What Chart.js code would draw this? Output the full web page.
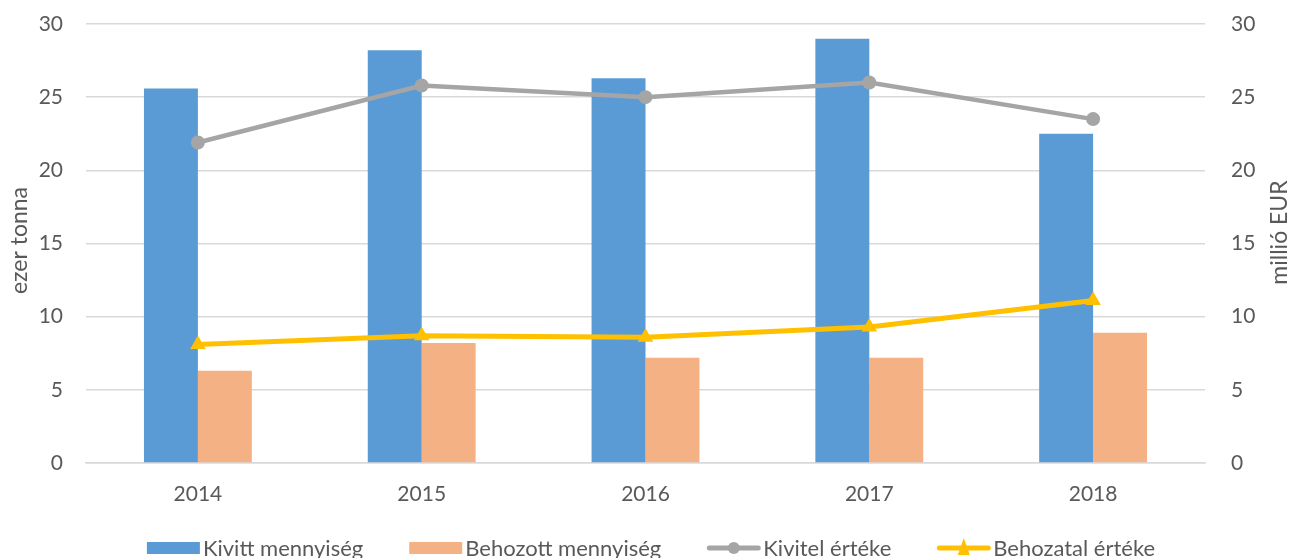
<!DOCTYPE html>
<html>
<head>
<meta charset="utf-8">
<script src="https://cdn.jsdelivr.net/npm/chart.js@4/dist/chart.umd.min.js"></script>
<style>
html,body{margin:0;padding:0;background:#fff;}
#wrap{width:1291px;height:558px;position:relative;}
</style>
</head>
<body>
<div id="wrap"><canvas id="c" width="1291" height="558"></canvas></div>
<script>
const years = ['2014', '2015', '2016', '2017', '2018'];
const kivittMennyiseg = [25.6, 28.2, 26.3, 29.0, 22.5];
const behozottMennyiseg = [6.3, 8.2, 7.2, 7.2, 8.9];
const kivitelErteke = [21.9, 25.8, 25.0, 26.0, 23.5];
const behozatalErteke = [8.1, 8.7, 8.6, 9.3, 11.1];
const yTicks = [0, 5, 10, 15, 20, 25, 30];
const leftTitle = 'ezer tonna';
const rightTitle = 'millió EUR';

const FONT = 'Lato, "Liberation Sans", sans-serif';
const TXT = '#595959';
const FS = 21;

const titlesPlugin = {
  id: 'axisTitles',
  afterDraw(chart) {
    const ctx = chart.ctx;
    ctx.save();
    ctx.font = '23px ' + FONT;
    ctx.fillStyle = TXT;
    ctx.textAlign = 'center';
    ctx.textBaseline = 'alphabetic';
    const mid = (chart.chartArea.top + chart.chartArea.bottom) / 2;
    ctx.save(); ctx.translate(27, mid - 3); ctx.rotate(-Math.PI / 2); ctx.fillText(leftTitle, 0, 0); ctx.restore();
    ctx.save(); ctx.translate(1287, mid - 11); ctx.rotate(-Math.PI / 2); ctx.fillText(rightTitle, 0, 0); ctx.restore();
    ctx.restore();
  }
};

const legendPlugin = {
  id: 'customLegend',
  afterDraw(chart) {
    const ctx = chart.ctx;
    const ds = chart.data.datasets;
    ctx.save();
    ctx.font = '22px ' + FONT;
    const sym = 53, gapT = 3, gapI = 46;
    const widths = ds.map(d => sym + gapT + ctx.measureText(d.label).width);
    const total = widths.reduce((a, b) => a + b, 0) + gapI * (ds.length - 1);
    let x = 651 - total / 2;
    const y = 548;
    ds.forEach((d, i) => {
      if (d.type === 'line') {
        ctx.strokeStyle = d.borderColor;
        ctx.lineWidth = 5;
        ctx.lineCap = 'round';
        ctx.beginPath(); ctx.moveTo(x + 2, y); ctx.lineTo(x + sym - 2, y); ctx.stroke();
        ctx.fillStyle = d.borderColor;
        const cx = x + sym / 2;
        if (d.pointStyle === 'triangle') {
          ctx.beginPath(); ctx.moveTo(cx, y - 10); ctx.lineTo(cx + 6, y + 7); ctx.lineTo(cx - 6, y + 7); ctx.closePath(); ctx.fill();
        } else {
          ctx.beginPath(); ctx.arc(cx, y, 6, 0, Math.PI * 2); ctx.fill();
        }
      } else {
        ctx.fillStyle = d.backgroundColor;
        ctx.fillRect(x, y - 6, sym, 12);
      }
      ctx.fillStyle = TXT;
      ctx.textBaseline = 'middle';
      ctx.textAlign = 'left';
      ctx.fillText(d.label, x + sym + gapT, y + 1);
      x += widths[i] + gapI;
    });
    ctx.restore();
  }
};

function fixY(axis) { axis.width = 86; axis.paddingTop = 0; axis.paddingBottom = 0; }

new Chart(document.getElementById('c'), {
  data: {
    labels: years,
    datasets: [
      { type: 'bar', label: 'Kivitt mennyiség', data: kivittMennyiseg, backgroundColor: '#5b9bd5', yAxisID: 'y', order: 2,
        categoryPercentage: 0.482, barPercentage: 1 },
      { type: 'bar', label: 'Behozott mennyiség', data: behozottMennyiseg, backgroundColor: '#f4b183', yAxisID: 'y', order: 2,
        categoryPercentage: 0.482, barPercentage: 1 },
      { type: 'line', label: 'Kivitel értéke', data: kivitelErteke, borderColor: '#a5a5a5', backgroundColor: '#a5a5a5',
        borderWidth: 4.5, pointRadius: 7, pointStyle: 'circle', pointBorderWidth: 0, yAxisID: 'y1', order: 0, tension: 0 },
      { type: 'line', label: 'Behozatal értéke', data: behozatalErteke, borderColor: '#ffc000', backgroundColor: '#ffc000',
        borderWidth: 5, pointRadius: 9, pointStyle: 'triangle', pointBorderWidth: 0, yAxisID: 'y1', order: 1, tension: 0 }
    ]
  },
  options: {
    responsive: false,
    animation: false,
    layout: { padding: { left: 0, right: 0, top: 24, bottom: 37 } },
    plugins: { legend: { display: false }, tooltip: { enabled: false } },
    scales: {
      x: {
        afterFit(axis) { axis.height = 58; },
        grid: { display: false, drawTicks: false },
        border: { display: true, color: '#d9d9d9', width: 1.5 },
        ticks: { color: TXT, font: { family: FONT, size: FS }, padding: 19 }
      },
      y: {
        position: 'left', min: 0, max: 30,
        afterFit: fixY,
        afterBuildTicks(axis) { axis.ticks = yTicks.map(v => ({ value: v })); },
        grid: { color: '#d9d9d9', lineWidth: 1.5, drawTicks: false },
        border: { display: false },
        ticks: { color: TXT, font: { family: FONT, size: FS }, padding: 23 }
      },
      y1: {
        position: 'right', min: 0, max: 30,
        afterFit: fixY,
        afterBuildTicks(axis) { axis.ticks = yTicks.map(v => ({ value: v })); },
        grid: { display: false, drawTicks: false },
        border: { display: false },
        ticks: { color: TXT, font: { family: FONT, size: FS }, padding: 26 }
      }
    }
  },
  plugins: [legendPlugin, titlesPlugin]
});
</script>
</body>
</html>
